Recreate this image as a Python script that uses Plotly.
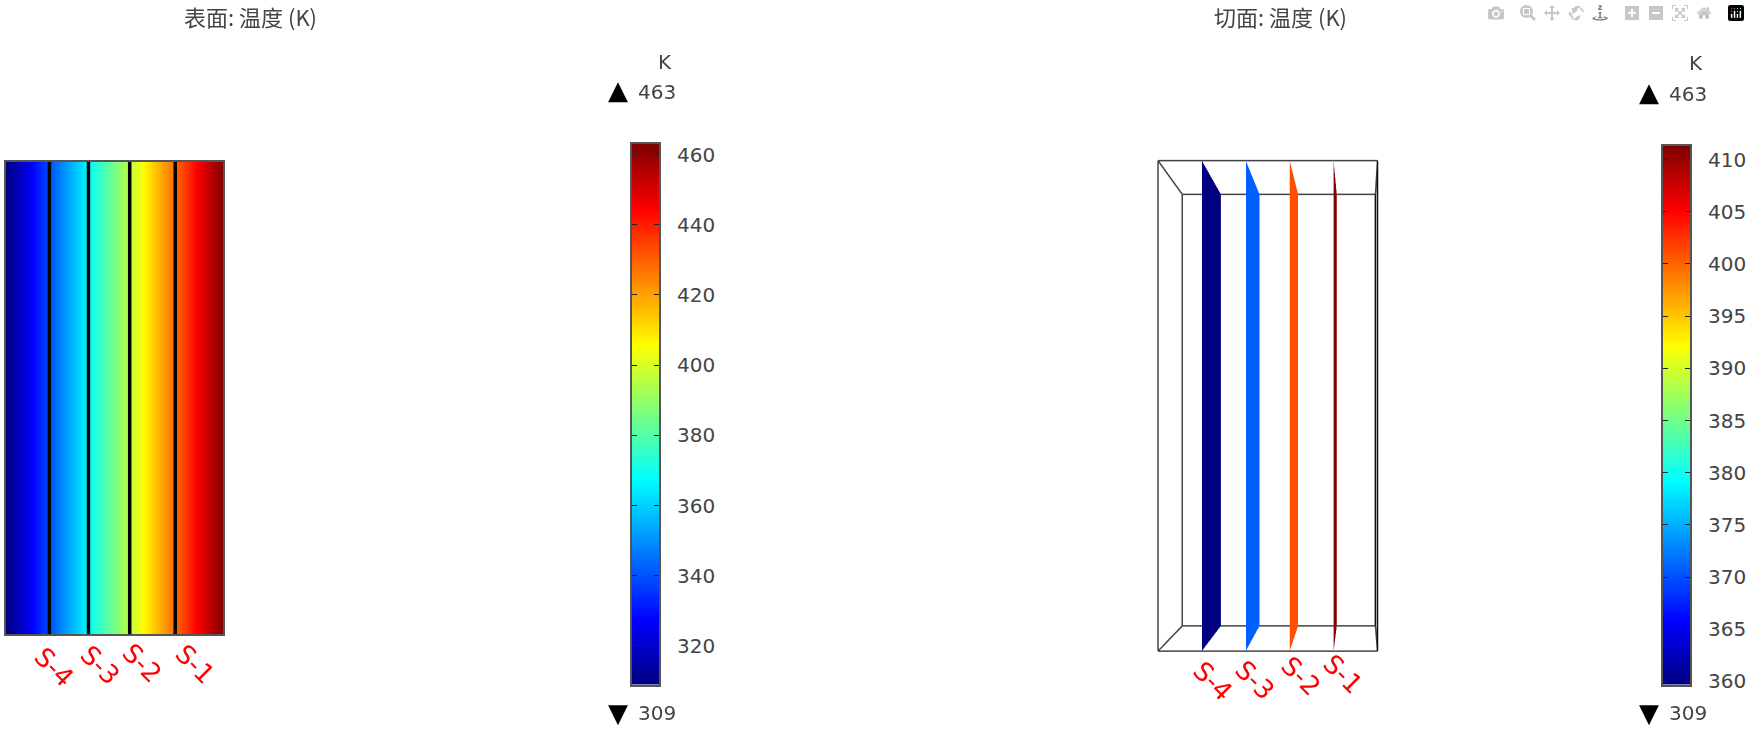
import plotly.graph_objects as go

W, H = 1750, 737

title_left = "表面: 温度 (K)"
title_right = "切面: 温度 (K)"
unit = "K"
global_max = 463
global_min = 309

# jet colours used by both colorbars
jet_colors = [
    [0.0, "rgb(0,0,128)"],
    [0.12, "rgb(0,0,255)"],
    [0.38, "rgb(0,255,255)"],
    [0.505, "rgb(125,255,125)"],
    [0.63, "rgb(255,255,0)"],
    [0.88, "rgb(255,0,0)"],
    [1.0, "rgb(128,0,0)"],
]

# surface plot, temperature across the sample width
surface_pos = [0.0, 0.1, 0.2, 0.3, 0.4, 0.5, 0.6, 0.7, 0.8, 0.9, 1.0]
surface_height = [0.0, 1.0]
surface_temp = [309, 324, 340, 355, 371, 386, 401, 417, 432, 448, 463]

slice_names = ["S-4", "S-3", "S-2", "S-1"]
slice_pos_left = [0.2, 0.38, 0.57, 0.78]
left_ticks = [320, 340, 360, 380, 400, 420, 440, 460]
left_levels = [309, 318, 327, 336, 345, 354, 363, 372, 381, 390, 399, 408, 417, 426, 435, 444, 453, 463]

# slice plot, box in model units
box_x = [0.0, 1.0]
box_y = [0.0, 0.432]
box_z = [0.0, 2.234]
slice_pos_right = [0.2, 0.4, 0.6, 0.8]
slice_temp = [340, 371, 401, 432]
right_ticks = [360, 365, 370, 375, 380, 385, 390, 395, 400, 405, 410]
right_levels = [359.7, 363, 366, 369, 372, 375, 378, 381, 384, 387, 390, 393, 396, 399, 402, 405, 408, 411.3]


def px(x):
    return x / W


def py(y):
    return 1 - y / H


def add_label(fig, text, x, y, color="#444444", size=20, angle=0, family="DejaVu Sans"):
    fig.add_annotation(
        text=text, x=px(x), y=py(y), xref="paper", yref="paper", showarrow=False,
        font=dict(family=family, size=size, color=color), textangle=angle,
        xanchor="center", yanchor="middle",
    )


def add_colorbar(fig, levels, xname, yname):
    fig.add_trace(go.Heatmap(
        x=[0, 1], y=levels, z=[[v, v] for v in levels],
        zmin=levels[0], zmax=levels[-1], zsmooth="best",
        colorscale=jet_colors, showscale=False,
        xaxis=xname, yaxis=yname,
    ))


def bar_xaxis(x0, x1, anchor):
    return dict(domain=[px(x0), px(x1)], range=[0, 1], anchor=anchor, showticklabels=False, ticks="",
                showgrid=False, zeroline=False, showline=True, mirror=True,
                linecolor="#555555", linewidth=2)


def bar_yaxis(y0, y1, levels, ticks, anchor):
    return dict(domain=[py(y1), py(y0)], range=[levels[0], levels[-1]], anchor=anchor, side="right",
                tickvals=ticks, ticks="inside", ticklen=5, tickcolor="#222222", mirror="ticks",
                ticklabelstandoff=12,
                tickfont=dict(family="DejaVu Sans", size=20, color="#444444"),
                showgrid=False, zeroline=False, showline=True,
                linecolor="#555555", linewidth=2)


fig = go.Figure()

fig.add_trace(go.Heatmap(
    x=surface_pos, y=surface_height,
    z=[surface_temp, surface_temp],
    zmin=global_min, zmax=global_max,
    zsmooth="best", colorscale=jet_colors, showscale=False,
    xaxis="x", yaxis="y",
))

for pos in slice_pos_left:
    fig.add_trace(go.Scatter(
        x=[pos, pos], y=surface_height, mode="lines",
        line=dict(color="black", width=3.5), showlegend=False,
        xaxis="x", yaxis="y",
    ))

add_colorbar(fig, left_levels, "x2", "y2")
add_colorbar(fig, right_levels, "x3", "y3")

# slices as flat planes inside the box
for i, pos in enumerate(slice_pos_right):
    fig.add_trace(go.Mesh3d(
        x=[pos, pos, pos, pos],
        y=[box_y[0], box_y[1], box_y[1], box_y[0]],
        z=[box_z[0], box_z[0], box_z[1], box_z[1]],
        i=[0, 0], j=[1, 2], k=[2, 3],
        intensity=[slice_temp[i]] * 4,
        cmin=right_levels[0], cmax=right_levels[-1], colorscale=jet_colors,
        showscale=False, flatshading=True,
        lighting=dict(ambient=1, diffuse=0, specular=0, fresnel=0),
        scene="scene",
    ))

# wire frame of the box, the hot side looks darker
corners = [(x, y, z) for z in box_z for y in box_y for x in box_x]
edges = [(0, 1), (2, 3), (4, 5), (6, 7), (0, 2), (1, 3), (4, 6), (5, 7), (0, 4), (1, 5), (2, 6), (3, 7)]
for a, b in edges:
    hot = corners[a][0] == 1 and corners[b][0] == 1 and corners[a][1] == corners[b][1]
    fig.add_trace(go.Scatter3d(
        x=[corners[a][0], corners[b][0]],
        y=[corners[a][1], corners[b][1]],
        z=[corners[a][2], corners[b][2]],
        mode="lines", line=dict(color="#200808" if hot else "#444444", width=3),
        showlegend=False, scene="scene",
    ))

hidden_axis = dict(visible=False, showbackground=False, showgrid=False, zeroline=False)
fig.update_layout(
    width=W, height=H, margin=dict(l=0, r=0, t=0, b=0),
    paper_bgcolor="white", plot_bgcolor="white",
    showlegend=False,
    xaxis=dict(domain=[px(6), px(223)], range=[0, 1], showticklabels=False, ticks="",
               showgrid=False, zeroline=False, showline=True, mirror=True,
               linecolor="#555555", linewidth=2),
    yaxis=dict(domain=[py(642), py(163)], range=[0, 1], showticklabels=False, ticks="",
               showgrid=False, zeroline=False, showline=True, mirror=True,
               linecolor="#555555", linewidth=2),
    xaxis2=bar_xaxis(632, 659, "y2"),
    yaxis2=bar_yaxis(145, 693, left_levels, left_ticks, "x2"),
    xaxis3=bar_xaxis(1663, 1690, "y3"),
    yaxis3=bar_yaxis(147, 693, right_levels, right_ticks, "x3"),
    scene=dict(
        domain=dict(x=[px(1140), px(1580)], y=[py(737), py(155)]),
        xaxis=dict(hidden_axis, range=box_x),
        yaxis=dict(hidden_axis, range=box_y),
        zaxis=dict(hidden_axis, range=box_z),
        aspectmode="manual",
        aspectratio=dict(x=1, y=0.432, z=2.234),
        bgcolor="rgba(0,0,0,0)",
        camera=dict(
            eye=dict(x=0.42, y=-3.371, z=-0.16),
            center=dict(x=0.42, y=0, z=-0.16),
            up=dict(x=0.016, y=0, z=1),
            projection=dict(type="perspective"),
        ),
    ),
)

add_label(fig, title_left, 250, 15, size=22, family="Noto Sans CJK SC")
add_label(fig, title_right, 1280, 15, size=22, family="Noto Sans CJK SC")

add_label(fig, unit, 665, 62)
add_label(fig, unit, 1696, 63)
add_label(fig, "▲", 618, 90, color="black", size=26)
add_label(fig, f"{global_max}", 657, 92)
add_label(fig, "▼", 618, 722, color="black", size=26)
add_label(fig, f"{global_min}", 657, 722)
add_label(fig, "▲", 1649, 92, color="black", size=26)
add_label(fig, f"{global_max}", 1688, 94)
add_label(fig, "▼", 1649, 722, color="black", size=26)
add_label(fig, f"{global_min}", 1688, 722)

for name, x, y in zip(slice_names, [54, 100, 142, 195], [675, 673, 671, 672]):
    add_label(fig, name, x, y, color="red", size=26, angle=45)
for name, x, y in zip(slice_names, [1213, 1255, 1301, 1343], [689, 688, 684, 682]):
    add_label(fig, name, x, y, color="red", size=26, angle=45)

# the page's default body margin would push everything by 8 px
fig.write_html("out.html", post_script="document.body.style.margin='0';")
